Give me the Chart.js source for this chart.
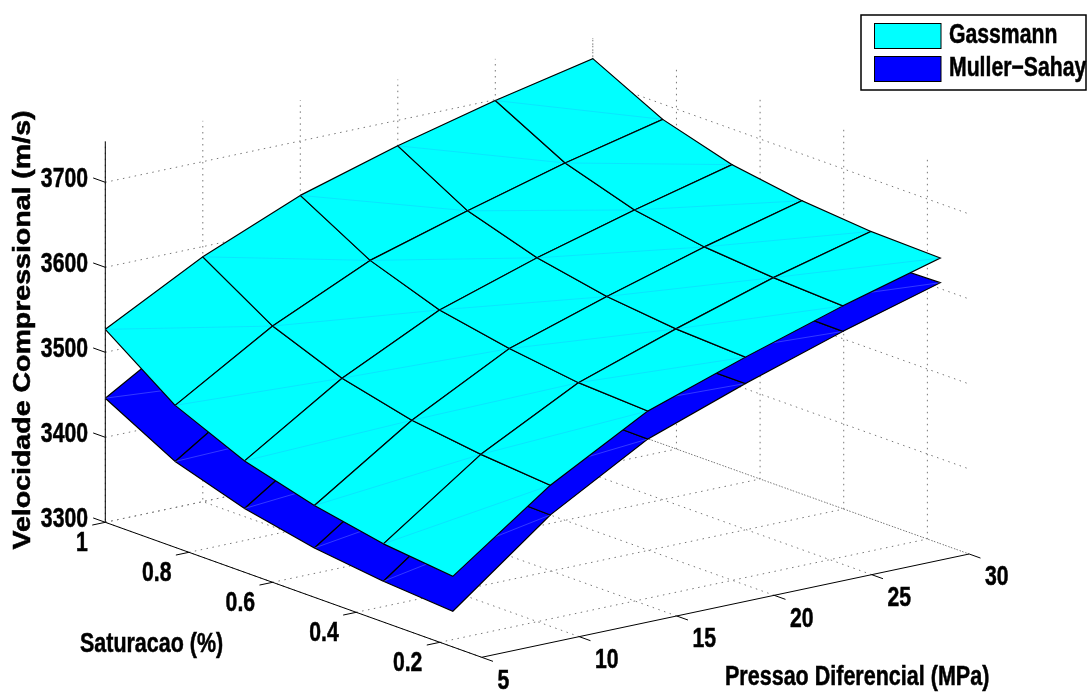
<!DOCTYPE html>
<html>
<head>
  <title>Velocidade Compressional</title>
  <script src="https://cdn.jsdelivr.net/npm/chart.js"></script>
  <style>
    body { margin: 0; background: #fff; }
    canvas { display: block; }
  </style>
</head>
<body>
  <canvas id="grafico" width="1088" height="695"></canvas>

  <script>
    // Dados
    const saturacao = [1, 0.833, 0.667, 0.5, 0.335, 0.169];
    const pressao = [5, 10, 15, 20, 25, 30];
    const gassmann = [
      [3527, 3588, 3636, 3670, 3699, 3724],
      [3467, 3536, 3589, 3623, 3655, 3682],
      [3431, 3504, 3560, 3597, 3629, 3658],
      [3408, 3484, 3544, 3581, 3615, 3645],
      [3392, 3473, 3533, 3572, 3608, 3638],
      [3383, 3466, 3529, 3568, 3604, 3636]
    ];
    const mullerSahay = [
      [3446, 3515, 3577, 3623, 3659, 3689],
      [3401, 3477, 3537, 3578, 3616, 3648],
      [3375, 3453, 3515, 3557, 3593, 3624],
      [3358, 3438, 3503, 3543, 3580, 3612],
      [3348, 3433, 3497, 3537, 3575, 3605],
      [3342, 3431, 3496, 3537, 3574, 3607]
    ];
    const ticksVelocidade = [3300, 3400, 3500, 3600, 3700];
    const ticksSaturacao = [1, 0.8, 0.6, 0.4, 0.2];
    const ticksPressao = [5, 10, 15, 20, 25, 30];
    const limiteSaturacao = [1, 0.1];
    const limitePressao = [5, 30];
    const limiteVelocidade = [3300, 3748];

    // Projecao ortografica da vista 3D para o plano da figura
    function proj(p, s, z) {
      return {
        x: 105.3 + (1 - s) * 418.2 + (p - 5) * 19.5,
        y: 522.3 + (1 - s) * 150 - (p - 5) * 4.132 - (z - 3300) * 0.85
      };
    }

    const datasets = [];
    function addLine(points, color, width, dash) {
      datasets.push({
        data: points, showLine: true, pointRadius: 0, fill: false,
        borderColor: color, borderWidth: width, borderDash: dash || [], tension: 0, clip: false
      });
    }

    // Grade pontilhada: chao e as duas paredes do fundo
    const pontilhado = [1.5, 4.5];
    const corGrade = "#777";
    const [sMax, sMin] = limiteSaturacao;
    const [pMin, pMax] = limitePressao;
    const [zMin, zMax] = limiteVelocidade;
    ticksSaturacao.forEach(s => {
      addLine([proj(pMin, s, zMin), proj(pMax, s, zMin), proj(pMax, s, zMax)], corGrade, 1, pontilhado);
    });
    ticksPressao.forEach(p => {
      addLine([proj(p, sMin, zMin), proj(p, sMax, zMin), proj(p, sMax, zMax)], corGrade, 1, pontilhado);
    });
    ticksVelocidade.forEach(z => {
      addLine([proj(pMin, sMax, z), proj(pMax, sMax, z), proj(pMax, sMin, z)], corGrade, 1, pontilhado);
    });

    // Eixos e marcas
    addLine([proj(pMin, sMax, zMin), proj(pMin, sMax, zMax)], "#000", 1);
    addLine([proj(pMin, sMax, zMin), proj(pMin, sMin, zMin)], "#000", 1);
    addLine([proj(pMin, sMin, zMin), proj(pMax, sMin, zMin)], "#000", 1);
    ticksVelocidade.forEach(z => addLine([proj(pMin, sMax, z), proj(pMin, sMax + 0.029, z)], "#000", 1));
    ticksSaturacao.forEach(s => addLine([proj(pMin, s, zMin), proj(pMin - 0.67, s, zMin)], "#000", 1));
    ticksPressao.forEach(p => addLine([proj(p, sMin, zMin), proj(p, sMin - 0.027, zMin)], "#000", 1));

    // Superficie: uma celula por dataset, mais a emenda diagonal de cada celula
    function addSurface(nome, valores, cor, corEmenda) {
      for (let i = 0; i < saturacao.length - 1; i++) {
        for (let j = 0; j < pressao.length - 1; j++) {
          const v = (a, b) => proj(pressao[b], saturacao[a], valores[a][b]);
          datasets.push({
            label: nome,
            data: [v(i, j), v(i + 1, j), v(i + 1, j + 1), v(i, j + 1), v(i, j)],
            showLine: true, pointRadius: 0, tension: 0, clip: false,
            fill: "shape", backgroundColor: cor, borderColor: "#000", borderWidth: 1.2
          });
          addLine([v(i, j), v(i + 1, j + 1)], corEmenda, 0.6);
        }
      }
    }
    addSurface("Muller-Sahay", mullerSahay, "#0000ff", "rgba(170,190,255,0.5)");
    addSurface("Gassmann", gassmann, "#00ffff", "rgba(40,150,255,0.4)");

    // O Chart.js desenha o primeiro dataset por cima
    datasets.reverse();

    function texto(ctx, t, x, y, opts) {
      const o = Object.assign({ size: 27, sx: 0.785, rot: 0, align: "left" }, opts);
      ctx.save();
      ctx.translate(x, y);
      ctx.rotate(o.rot);
      ctx.scale(o.sx, 1);
      ctx.font = "bold " + o.size + "px 'Liberation Sans'";
      ctx.fillStyle = "#000";
      ctx.strokeStyle = "#000";
      ctx.lineWidth = 0.5;
      ctx.textAlign = o.align;
      ctx.textBaseline = "middle";
      ctx.fillText(t, 0, 0);
      ctx.strokeText(t, 0, 0);
      ctx.restore();
    }

    const rotulos = {
      id: "rotulos",
      afterDatasetsDraw(chart) {
        const ctx = chart.ctx;
        ticksVelocidade.forEach(z => {
          const t = proj(pMin, sMax, z);
          texto(ctx, String(z), 88, t.y - 2.5, { align: "right" });
        });
        ticksSaturacao.forEach(s => {
          const t = proj(pMin, s, zMin);
          texto(ctx, String(s), t.x - 17.5, t.y + 21.5, { align: "right" });
        });
        ticksPressao.forEach(p => {
          const t = proj(p, sMin, zMin);
          texto(ctx, String(p), t.x + 15.7, t.y + 24);
        });
        texto(ctx, "Saturacao (%)", 80, 645, { sx: 0.795 });
        texto(ctx, "Pressao Diferencial (MPa)", 725, 678, { sx: 0.797 });
        texto(ctx, "Velocidade Compressional (m/s)", 24, 330, { rot: -Math.PI / 2, size: 23, sx: 1.24, align: "center" });

        // Legenda
        ctx.fillStyle = "#fff";
        ctx.strokeStyle = "#000";
        ctx.lineWidth = 1.5;
        ctx.fillRect(861, 15, 225, 75);
        ctx.strokeRect(861, 15, 225, 75);
        ctx.lineWidth = 1;
        ctx.fillStyle = "#00ffff";
        ctx.fillRect(874.5, 23.5, 66.5, 25);
        ctx.strokeRect(874.5, 23.5, 66.5, 25);
        ctx.fillStyle = "#0000ff";
        ctx.fillRect(874.5, 56.5, 66.5, 25);
        ctx.strokeRect(874.5, 56.5, 66.5, 25);
        texto(ctx, "Gassmann", 949, 36);
        texto(ctx, "Muller\u2212Sahay", 949, 69);
      }
    };

    new Chart(document.getElementById("grafico"), {
      type: "scatter",
      data: { datasets: datasets },
      options: {
        responsive: false,
        animation: false,
        layout: { padding: 0 },
        scales: {
          x: { type: "linear", display: false, min: 0, max: 1088 },
          y: { type: "linear", display: false, min: 0, max: 695, reverse: true }
        },
        plugins: { legend: { display: false }, tooltip: { enabled: false } }
      },
      plugins: [rotulos]
    });
  </script>
</body>
</html>
